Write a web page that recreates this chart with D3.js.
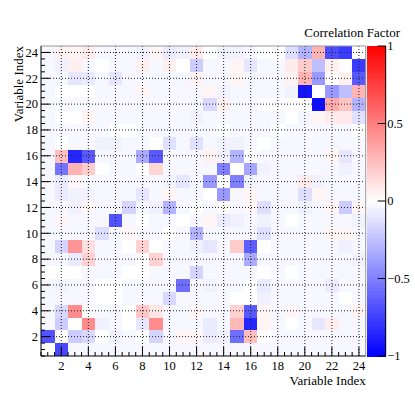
<!DOCTYPE html>
<meta charset="utf-8">
<style>
body { margin: 0; background: #fff; }
text { font-family: "Liberation Serif", "DejaVu Serif", serif; fill: #000; }
.grid line { stroke: #222; stroke-width: 1; stroke-dasharray: 1,2; }
</style>
<svg width="415" height="396"></svg>
<script src="https://cdn.jsdelivr.net/npm/d3@7"></script>
<script>

// corr[j-1][i-1] : correlation between variable i (x) and variable j (y)
var corr = [
  [0,-0.72,-0.03,-0.03,-0.03,-0.03,-0.03,-0.03,-0.03,-0.03,-0.03,-0.03,-0.03,-0.03,-0.03,-0.03,-0.03,-0.03,-0.03,-0.03,-0.03,-0.03,-0.03,-0.03],
  [-0.68,0,-0.2,-0.15,0,-0.05,-0.03,0,-0.17,-0.03,0.03,0.03,-0.08,-0.06,-0.57,0.26,0,-0.03,-0.03,-0.03,-0.03,-0.03,-0.03,-0.03],
  [-0.03,-0.2,0,0.45,-0.06,-0.03,0,-0.1,0.45,-0.03,-0.03,-0.03,-0.08,-0.03,0.28,-0.85,0.04,-0.03,0,-0.03,-0.1,0.07,-0.03,-0.03],
  [-0.03,-0.15,0.45,0,-0.03,-0.03,0,0.22,0.1,-0.03,-0.03,0.03,-0.03,-0.03,0.18,-0.65,0.04,-0.03,0.03,-0.03,-0.03,-0.03,-0.03,0.05],
  [-0.03,-0.03,-0.03,-0.03,0,0,-0.03,-0.03,-0.03,-0.15,-0.03,-0.03,-0.03,-0.03,0,0,-0.06,-0.03,-0.03,-0.03,-0.03,-0.03,0,-0.03],
  [-0.03,-0.05,-0.03,-0.03,0,0,-0.03,-0.03,-0.03,-0.03,-0.57,-0.03,-0.05,-0.03,-0.03,0,-0.08,-0.03,-0.03,-0.03,-0.03,-0.08,-0.03,-0.03],
  [0,0,0,-0.03,-0.03,-0.03,0,0,-0.03,-0.03,-0.03,-0.17,-0.03,-0.03,-0.03,-0.03,0,-0.03,0,-0.03,-0.03,-0.03,-0.03,-0.03],
  [-0.03,-0.03,-0.08,0.18,-0.03,-0.03,-0.03,0,0.18,-0.03,-0.03,-0.03,-0.03,-0.03,-0.03,-0.33,-0.03,-0.03,-0.03,-0.03,-0.03,-0.03,-0.03,-0.05],
  [-0.03,-0.17,0.42,0.12,-0.03,-0.03,0,0.18,0,-0.03,-0.03,-0.06,-0.1,-0.03,0.2,-0.63,0,-0.03,-0.03,-0.03,-0.03,-0.03,-0.06,-0.03],
  [-0.03,-0.03,-0.03,-0.03,-0.13,-0.03,0.03,-0.03,-0.03,0,-0.03,-0.3,-0.03,-0.03,-0.03,-0.03,-0.12,-0.03,-0.03,-0.03,-0.03,0.04,0.04,-0.03],
  [-0.03,0.03,-0.03,-0.03,-0.03,-0.68,-0.03,0,-0.03,-0.03,0,-0.03,0.04,-0.08,-0.06,-0.03,-0.05,-0.03,0,-0.03,-0.03,-0.03,-0.03,-0.05],
  [-0.03,-0.03,-0.05,0.03,-0.03,-0.03,-0.17,-0.03,-0.06,-0.3,-0.03,0,-0.03,0.02,-0.03,0.03,-0.13,-0.03,-0.03,-0.05,-0.03,0.04,-0.2,0.04],
  [-0.03,-0.08,-0.05,-0.05,-0.03,-0.03,-0.03,-0.1,-0.03,0.04,-0.03,-0.03,0,-0.4,-0.03,0.04,-0.03,-0.03,-0.03,-0.13,0.04,-0.03,-0.03,-0.03],
  [-0.03,-0.08,0.03,-0.03,-0.03,-0.03,-0.03,-0.03,-0.03,-0.05,-0.1,-0.03,-0.4,0,-0.5,-0.05,-0.03,-0.03,-0.03,0.08,-0.05,-0.03,-0.03,-0.03],
  [-0.03,-0.55,0.3,0.2,0,-0.03,-0.03,0,0.16,-0.03,-0.03,-0.03,-0.03,-0.5,0,-0.35,-0.05,-0.03,-0.03,-0.03,-0.03,-0.03,-0.06,-0.03],
  [-0.03,0.25,-0.85,-0.65,-0.03,-0.03,-0.03,-0.33,-0.65,-0.03,-0.03,-0.03,0.05,-0.05,-0.3,0,-0.03,-0.03,-0.03,-0.03,-0.03,0.04,-0.1,-0.03],
  [-0.03,0,-0.03,-0.03,-0.05,-0.05,-0.03,-0.03,0,-0.12,-0.03,-0.12,-0.03,-0.05,-0.05,-0.03,0,-0.03,-0.03,-0.03,-0.03,-0.03,-0.03,-0.03],
  [-0.03,-0.03,-0.03,-0.03,-0.03,0,0,-0.03,-0.03,-0.03,-0.03,-0.03,-0.03,0,-0.03,-0.03,-0.03,0,-0.03,-0.03,-0.03,-0.03,-0.03,0],
  [-0.03,0,0,0.04,-0.03,-0.03,-0.03,-0.03,-0.03,-0.03,-0.03,-0.05,-0.03,-0.03,-0.03,-0.03,-0.03,-0.03,0,-0.04,0.04,0.08,0.08,-0.12],
  [-0.03,-0.03,-0.03,-0.03,-0.03,-0.03,-0.03,-0.03,-0.03,-0.03,-0.03,-0.03,-0.15,0.06,-0.03,-0.03,0,0,0,0,-0.95,0.33,0.23,-0.3],
  [-0.03,0,0,0,-0.03,-0.03,-0.03,0.04,-0.03,-0.03,-0.03,-0.03,0.04,-0.05,-0.03,-0.03,-0.03,-0.03,-0.05,-0.92,0,-0.4,-0.25,0.3],
  [-0.03,-0.03,-0.1,-0.08,-0.03,-0.1,-0.03,-0.03,-0.03,-0.03,-0.03,0.05,-0.03,-0.03,0.04,-0.03,-0.03,-0.03,0.05,0.3,-0.4,0,0.06,-0.65],
  [-0.03,-0.06,0.06,-0.03,0,-0.03,-0.03,0.06,-0.03,0.06,0,-0.2,-0.03,-0.03,0.04,-0.1,-0.03,-0.03,0.08,0.2,-0.25,0.06,0,-0.77],
  [-0.03,0.05,0.04,0.08,-0.03,-0.03,-0.03,-0.06,0.04,-0.08,-0.05,0.08,0,-0.05,-0.05,-0.03,0,0,-0.13,-0.3,0.3,-0.7,-0.77,0]
];

var axisTicks = [2,4,6,8,10,12,14,16,18,20,22,24];
var colorTicks = [-1,-0.5,0,0.5,1];
var axisTitle = "Variable Index";
var colorTitle = "Correlation Factor";

var svg = d3.select("svg");

var frame = {left: 41, right: 365.7, top: 46, bottom: 356};
var bar = {left: 367.3, right: 385.7};

var x = d3.scaleLinear().domain([0.5, 24.5]).range([frame.left, frame.right]);
var y = d3.scaleLinear().domain([0.5, 24.5]).range([frame.bottom, frame.top]);
var color = d3.scaleLinear().domain([-1, 0, 1]).range(["#0000ff", "#ffffff", "#ff0000"]);
var cy = d3.scaleLinear().domain([-1, 1]).range([frame.bottom, frame.top]);

// cells
var cells = [];
corr.forEach(function(row, j) {
  row.forEach(function(v, i) { cells.push({i: i + 1, j: j + 1, v: v}); });
});

svg.append("g").selectAll("rect")
  .data(cells)
  .enter().append("rect")
  .attr("x", function(d) { return x(d.i - 0.5); })
  .attr("y", function(d) { return y(d.j + 0.5); })
  .attr("width", function(d) { return x(d.i + 0.5) - x(d.i - 0.5) + 0.3; })
  .attr("height", function(d) { return y(d.j - 0.5) - y(d.j + 0.5) + 0.3; })
  .attr("fill", function(d) { return color(d.v); })
  .attr("shape-rendering", "crispEdges");

// grid
var grid = svg.append("g").attr("class", "grid");
grid.selectAll(".gx").data(axisTicks).enter().append("line")
  .attr("x1", function(d) { return x(d); }).attr("x2", function(d) { return x(d); })
  .attr("y1", frame.top).attr("y2", frame.bottom);
grid.selectAll(".gy").data(axisTicks).enter().append("line")
  .attr("y1", function(d) { return y(d); }).attr("y2", function(d) { return y(d); })
  .attr("x1", frame.left).attr("x2", frame.right);

// frame top/right
svg.append("path")
  .attr("d", "M" + frame.left + "," + frame.top + "H" + frame.right + "V" + frame.bottom)
  .attr("fill", "none").attr("stroke", "#999");

// ticks (ROOT style, inside frame)
var minor = d3.range(1, 49).map(function(k) { return k * 0.5; });
var xAxisG = svg.append("g").attr("stroke", "#000");
xAxisG.selectAll("line").data(minor).enter().append("line")
  .attr("x1", function(d) { return x(d); }).attr("x2", function(d) { return x(d); })
  .attr("y1", frame.bottom)
  .attr("y2", function(d) { return frame.bottom - (d % 2 === 0 ? 9 : 4); });
var yAxisG = svg.append("g").attr("stroke", "#000");
yAxisG.selectAll("line").data(minor).enter().append("line")
  .attr("y1", function(d) { return y(d); }).attr("y2", function(d) { return y(d); })
  .attr("x1", frame.left)
  .attr("x2", function(d) { return frame.left + (d % 2 === 0 ? 9 : 4); });

svg.append("path")
  .attr("d", "M" + frame.left + "," + frame.top + "V" + frame.bottom + "H" + frame.right)
  .attr("fill", "none").attr("stroke", "#000");

// tick labels
svg.append("g").selectAll("text").data(axisTicks).enter().append("text")
  .attr("x", function(d) { return x(d); })
  .attr("y", 370)
  .attr("text-anchor", "middle")
  .attr("font-size", 12.5)
  .text(function(d) { return d; });
svg.append("g").selectAll("text").data(axisTicks).enter().append("text")
  .attr("x", 38)
  .attr("y", function(d) { return y(d) + 4.3; })
  .attr("text-anchor", "end")
  .attr("font-size", 12.5)
  .text(function(d) { return d; });

// axis titles
svg.append("text")
  .attr("x", frame.right).attr("y", 385)
  .attr("text-anchor", "end").attr("font-size", 13)
  .text(axisTitle);
svg.append("text")
  .attr("transform", "translate(23," + frame.top + ") rotate(-90)")
  .attr("text-anchor", "end").attr("font-size", 13)
  .text(axisTitle);

// colour bar
var bands = d3.range(-1, 1, 0.02);
svg.append("g").selectAll("rect").data(bands).enter().append("rect")
  .attr("x", bar.left)
  .attr("width", bar.right - bar.left)
  .attr("y", function(d) { return cy(d + 0.02); })
  .attr("height", function(d) { return cy(d) - cy(d + 0.02) + 0.5; })
  .attr("fill", function(d) { return color(d + 0.01); })
  .attr("shape-rendering", "crispEdges");

svg.append("line")
  .attr("x1", bar.right).attr("x2", bar.right)
  .attr("y1", frame.top).attr("y2", frame.bottom)
  .attr("stroke", "#000");

svg.append("g").selectAll("line").data(colorTicks).enter().append("line")
  .attr("x1", bar.right - 8).attr("x2", bar.right)
  .attr("y1", function(d) { return cy(d); }).attr("y2", function(d) { return cy(d); })
  .attr("stroke", "#000");

var fmt = d3.format("");
svg.append("g").selectAll("text").data(colorTicks).enter().append("text")
  .attr("x", bar.right + 1.5)
  .attr("y", function(d) { return cy(d) + 4.3; })
  .attr("font-size", 12.5)
  .text(function(d) { return fmt(d); });

svg.append("text")
  .attr("x", 400).attr("y", 37)
  .attr("text-anchor", "end").attr("font-size", 13)
  .text(colorTitle);

</script>
